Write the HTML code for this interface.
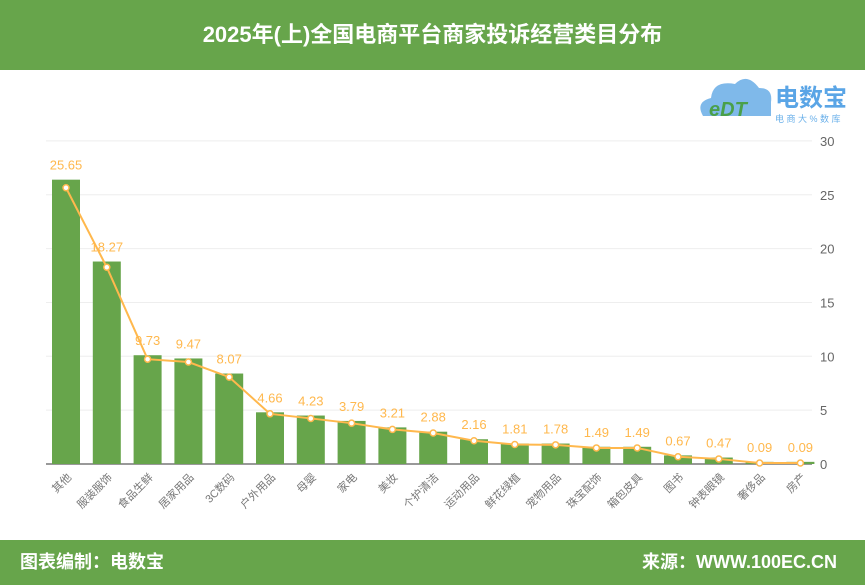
<!DOCTYPE html>
<html><head><meta charset="utf-8"><style>
body{margin:0;width:865px;height:585px;overflow:hidden;background:#fff;font-family:"Liberation Sans","Noto Sans CJK SC",sans-serif}
.hdr{position:absolute;left:0;top:0;width:865px;height:70px;background:#67a54b;color:#fff;font-weight:bold;font-size:22px;text-align:center;line-height:70px}
.ftr{position:absolute;left:0;top:540px;width:865px;height:45px;background:#67a54b;color:#fff;font-weight:bold;font-size:18px;line-height:45px}
</style></head><body>
<div class="hdr">2025年(上)全国电商平台商家投诉经营类目分布</div>
<div style="position:absolute;left:695px;top:72px;width:170px;height:55px">
<svg width="170" height="55"><path d="M8 44 Q0 30 16 26 Q18 8 40 12 Q52 0 64 16 Q78 16 76 30 L76 44 Z" fill="#7fb9ea"/><text x="14" y="44" font-size="20" fill="#4aa04a" font-style="italic" font-weight="bold">eDT</text>
<text x="80" y="34" font-size="24" fill="#5aa5e6" font-weight="bold">电数宝</text><text x="80" y="50" font-size="9" fill="#6ab0ea">电 商 大 % 数 库</text></svg></div>
<svg id="c" width="865" height="585" style="position:absolute;left:0;top:0"></svg>
<div class="ftr"><span style="position:absolute;left:20px">图表编制：电数宝</span><span style="position:absolute;right:28px">来源：WWW.100EC.CN</span></div>
<script>
const categories=["其他","服装服饰","食品生鲜","居家用品","3C数码","户外用品","母婴","家电","美妆","个护清洁","运动用品","鲜花绿植","宠物用品","珠宝配饰","箱包皮具","图书","钟表眼镜","奢侈品","房产"];
const lineValues=[25.65,18.27,9.73,9.47,8.07,4.66,4.23,3.79,3.21,2.88,2.16,1.81,1.78,1.49,1.49,0.67,0.47,0.09,0.09];
const barValues=[26.4,18.8,10.1,9.8,8.4,4.8,4.5,4.0,3.4,3.0,2.3,1.9,1.9,1.6,1.6,0.8,0.6,0.2,0.2];
const yTicks=[0,5,10,15,20,25,30];
const NS="http://www.w3.org/2000/svg",svg=document.getElementById('c');
const y=v=>464-v*10.77, x=i=>66+i*40.8;
function mk(t,a,p){const e=document.createElementNS(NS,t);for(const k in a)e.setAttribute(k,a[k]);(p||svg).appendChild(e);return e;}
yTicks.forEach(t=>{
 const l=mk('line',{x1:46,x2:812,y1:y(t),y2:y(t),stroke:t?'#eee':'#999','stroke-width':t?1:2});
 
 
 const tx=mk('text',{x:820,y:y(t)+5,'font-size':13,fill:'#666'});tx.textContent=t;
 
 
});
categories.forEach((c,i)=>{
 const b=mk('rect',{x:x(i)-14,y:y(barValues[i]),width:28,height:464-y(barValues[i]),fill:'#67a54b'});
 
 
 const t=mk('text',{x:x(i)+6,y:478,'font-size':11,fill:'#777','text-anchor':'end',transform:`rotate(-45 ${x(i)+6} 478)`});t.textContent=c;
 
 
});
const pts=lineValues.map((v,i)=>x(i)+','+y(v)).join(' ');
const pl=mk('polyline',{points:pts,fill:'none',stroke:'#ffb84d','stroke-width':2});


lineValues.forEach((v,i)=>{
 const d=mk('circle',{cx:x(i),cy:y(v),r:3,fill:'#fff',stroke:'#ffb84d','stroke-width':1.5});
 
 
 const t=mk('text',{x:x(i),y:Math.min(y(v),y(barValues[i]))-10,'font-size':13,fill:'#ffb84d','text-anchor':'middle'});t.textContent=v.toFixed(2);
 
 
});
</script>
</body></html>
